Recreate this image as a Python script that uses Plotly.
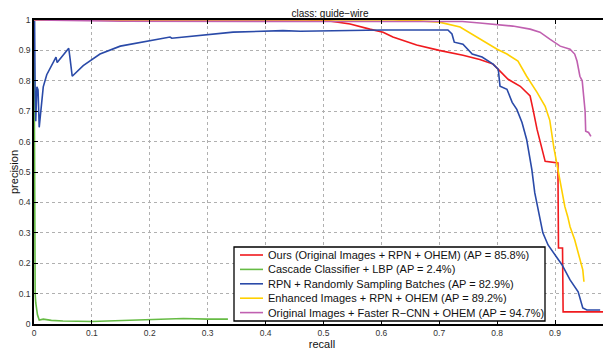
import plotly.graph_objects as go

names = [
    "Ours (Original Images + RPN + OHEM) (AP = 85.8%)",
    "Cascade Classifier + LBP (AP = 2.4%)",
    "RPN + Randomly Sampling Batches (AP = 82.9%)",
    "Enhanced Images + RPN + OHEM (AP = 89.2%)",
    "Original Images + Faster R\u2212CNN + OHEM (AP = 94.7%)",
]
colors = ["#f01a1e", "#66bb44", "#2a4aa8", "#ffd000", "#c060b0"]

red_recall = [0, 0.47, 0.51, 0.546, 0.58, 0.603, 0.62, 0.632, 0.661, 0.70, 0.741, 0.77,
              0.793, 0.805, 0.819, 0.84, 0.857, 0.862, 0.869, 0.883, 0.905, 0.906, 0.913,
              0.914, 0.985]
red_prec = [1, 1, 0.997, 0.987, 0.97, 0.96, 0.944, 0.937, 0.918, 0.90, 0.884, 0.87,
            0.855, 0.832, 0.805, 0.782, 0.75, 0.706, 0.64, 0.535, 0.53, 0.25, 0.25,
            0.04, 0.04]

green_recall = [0, 0.0005, 0.001, 0.002, 0.003, 0.004, 0.006, 0.009, 0.016, 0.03, 0.05,
                0.1, 0.15, 0.2, 0.258, 0.3, 0.335]
green_prec = [1, 0.5, 0.12, 0.1, 0.07, 0.053, 0.03, 0.013, 0.016, 0.012, 0.01,
              0.008, 0.011, 0.013, 0.018, 0.016, 0.016]

blue_recall = [0, 0.001, 0.002, 0.003, 0.005, 0.007, 0.009, 0.014, 0.016, 0.022, 0.031,
               0.038, 0.040, 0.048, 0.060, 0.062, 0.066, 0.085, 0.114, 0.149, 0.2, 0.235,
               0.238, 0.287, 0.344, 0.43, 0.46, 0.603, 0.715, 0.722, 0.726, 0.741, 0.757,
               0.774, 0.784, 0.793, 0.802, 0.805, 0.817, 0.826, 0.834, 0.843, 0.851, 0.857,
               0.86, 0.865, 0.871, 0.874, 0.879, 0.888, 0.90, 0.912, 0.926, 0.94, 0.948,
               0.955, 0.978]
blue_prec = [1, 1, 0.75, 0.667, 0.78, 0.77, 0.647, 0.73, 0.78, 0.82, 0.855,
             0.878, 0.86, 0.88, 0.907, 0.878, 0.815, 0.85, 0.888, 0.914, 0.931, 0.944,
             0.94, 0.95, 0.96, 0.965, 0.963, 0.967, 0.967, 0.954, 0.927, 0.92, 0.888,
             0.878, 0.865, 0.855, 0.838, 0.782, 0.772, 0.729, 0.706, 0.663, 0.607, 0.541,
             0.508, 0.432, 0.376, 0.343, 0.30, 0.26, 0.228, 0.195, 0.145, 0.106, 0.053,
             0.046, 0.046]

yellow_recall = [0, 0.62, 0.667, 0.70, 0.736, 0.759, 0.776, 0.80, 0.817, 0.836, 0.851,
                 0.869, 0.883, 0.891, 0.898, 0.903, 0.905, 0.912, 0.917, 0.922, 0.926,
                 0.934, 0.94, 0.943, 0.948, 0.95]
yellow_prec = [1, 1, 0.997, 0.993, 0.977, 0.95, 0.93, 0.904, 0.888, 0.865, 0.815,
               0.762, 0.716, 0.67, 0.58, 0.53, 0.508, 0.442, 0.386, 0.353, 0.32,
               0.277, 0.238, 0.211, 0.178, 0.139]

pink_recall = [0, 0.15, 0.5, 0.74, 0.77, 0.80, 0.827, 0.857, 0.874, 0.891, 0.909, 0.926,
               0.934, 0.938, 0.943, 0.947, 0.950, 0.952, 0.953, 0.958, 0.962]
pink_prec = [1, 0.996, 0.995, 0.995, 0.99, 0.985, 0.98, 0.97, 0.96, 0.937, 0.914, 0.904,
             0.888, 0.865, 0.815, 0.80, 0.733, 0.70, 0.634, 0.63, 0.617]

x_ticks = [0, 0.1, 0.2, 0.3, 0.4, 0.5, 0.6, 0.7, 0.8, 0.9]
x_labels = ["0", "0.1", "0.2", "0.3", "0.4", "0.5", "0.6", "0.7", "0.8", "0.9"]
y_ticks = [0, 0.1, 0.2, 0.3, 0.4, 0.5, 0.6, 0.7, 0.8, 0.9, 1]
y_labels = ["0", "0.1", "0.2", "0.3", "0.4", "0.5", "0.6", "0.7", "0.8", "0.9", "1"]

series = [
    (red_recall, red_prec),
    (green_recall, green_prec),
    (blue_recall, blue_prec),
    (yellow_recall, yellow_prec),
    (pink_recall, pink_prec),
]

fig = go.Figure()
for (xs, ys), name, c in zip(series, names, colors):
    fig.add_trace(go.Scatter(x=xs, y=ys, mode="lines", name=name, showlegend=False,
                             line=dict(color=c, width=1.6)))

font = "Liberation Sans, Arial, sans-serif"

# Legend box drawn in plot-domain coordinates (MATLAB-like compact legend)
W, H = 576.0, 304.0  # plot area size in px
box_l, box_r, box_t, box_b = 200, 511, 77, 3   # px from plot left / bottom
shapes = [dict(type="rect", xref="x domain", yref="y domain",
               x0=box_l / W, x1=box_r / W, y0=box_b / H, y1=box_t / H,
               line=dict(color="black", width=1.3), fillcolor="white", layer="above")]
annotations = []
row0, step = 69.0, 14.4
for i, (name, c) in enumerate(zip(names, colors)):
    yy = (row0 - i * step) / H
    shapes.append(dict(type="line", xref="x domain", yref="y domain",
                       x0=206 / W, x1=229 / W, y0=yy, y1=yy,
                       line=dict(color=c, width=1.6), layer="above"))
    annotations.append(dict(xref="x domain", yref="y domain", x=232 / W, y=yy,
                            xanchor="left", yanchor="middle", text=name, showarrow=False,
                            font=dict(size=11, color="#111", family=font)))

# the page adds an 8px body margin; margins below compensate for it
fig.update_layout(
    width=611, height=350,
    margin=dict(l=26, r=9, t=12, b=34, autoexpand=False),
    paper_bgcolor="white", plot_bgcolor="white",
    font=dict(family=font, size=9, color="#222"),
    title=dict(text="class: guide\u2212wire", x=0.527, xanchor="center", y=0.984,
               yanchor="middle", font=dict(size=10, color="#111")),
    showlegend=False,
    shapes=shapes,
    annotations=annotations,
    xaxis=dict(range=[0, 0.995], tickvals=x_ticks, ticktext=x_labels, automargin=False,
               showgrid=True, gridcolor="#b0b0b0", griddash="dot", gridwidth=1,
               showline=True, linecolor="black", linewidth=1.5, mirror="allticks",
               ticks="inside", ticklen=4, tickcolor="black", zeroline=False,
               tickfont=dict(size=8.5, color="#333"),
               title=dict(text="recall", standoff=0, font=dict(size=11, color="#111"))),
    yaxis=dict(range=[0, 1], tickvals=y_ticks, ticktext=y_labels, automargin=False,
               showgrid=True, gridcolor="#b0b0b0", griddash="dot", gridwidth=1,
               showline=True, linecolor="black", linewidth=1.5, mirror="allticks",
               ticks="inside", ticklen=4, tickcolor="black", zeroline=False,
               tickfont=dict(size=8.5, color="#333"),
               title=dict(text="precision", standoff=0, font=dict(size=11, color="#111"))),
)

fig.write_html("out.html")
